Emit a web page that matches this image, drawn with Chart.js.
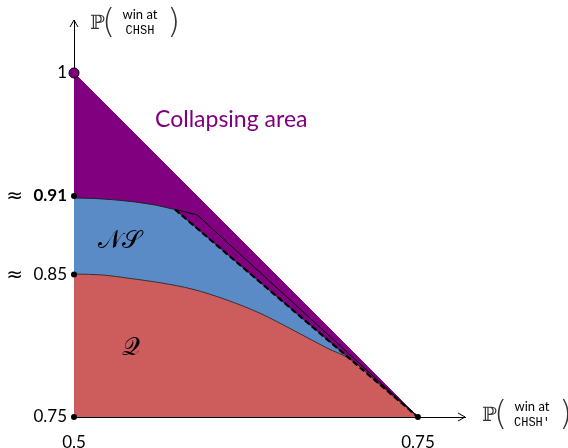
<!DOCTYPE html>
<html>
<head>
<meta charset="utf-8">
<script src="https://cdn.jsdelivr.net/npm/chart.js@4.4.0/dist/chart.umd.min.js"></script>
<style>
  body { margin: 0; background: #fff; }
  #wrap { width: 568px; height: 448px; }
</style>
</head>
<body>
<div id="wrap"><canvas id="chart" width="568" height="448"></canvas></div>
<script>
// axis ticks
var xTicks = [0.5, 0.75];
var xTickLabels = ['0.5', '0.75'];
var yTicks = [0.75, 0.8536, 0.9106, 1];
var yTickLabels = ['0.75', '0.85', '0.91', '1'];
var approxTicks = [0.8536, 0.9106]; // values shown with a "≈" in front

// outer bound (collapsing area edge)
var topX = [0.5, 0.75];
var topY = [1, 0.75];

// NS boundary: curve up to the kink, then dashed straight line
var nsX = [0.5, 0.5153, 0.5298, 0.5443, 0.5589, 0.5734, 0.75];
var nsY = [0.9092, 0.9088, 0.9078, 0.9063, 0.9041, 0.9008, 0.75];

// solid line that keeps going past the kink
var extraX = [0.5734, 0.5894, 0.75];
var extraY = [0.9008, 0.8970, 0.75];

// quantum boundary Q
var qX = [0.5, 0.5211, 0.5407, 0.5625, 0.5865, 0.6112, 0.6352, 0.6592, 0.6839, 0.7006, 0.7224, 0.75];
var qY = [0.8539, 0.8532, 0.8507, 0.8476, 0.8428, 0.8350, 0.8254, 0.8132, 0.8001, 0.7921, 0.7735, 0.75];

// marked points on the axes
var dotX = [0.5, 0.5, 0.5, 0.75];
var dotY = [0.75, 0.8536, 0.9106, 0.75];

function pts(xs, ys) {
  return xs.map(function (x, i) { return { x: x, y: ys[i] }; });
}

var purple = '#800080';
var blue = '#5b8bc7';
var red = '#cd5c5c';
var kink = 5; // index in nsX where the dashed part starts

// titles, arrows and region names
var decorations = {
  id: 'decorations',
  afterDraw: function (chart) {
    var ctx = chart.ctx;
    var xs = chart.scales.x, ys = chart.scales.y;
    var area = chart.chartArea;
    var x0 = xs.getPixelForValue(0.5);
    var y0 = ys.getPixelForValue(0.75);
    ctx.save();

    // arrow heads
    ctx.strokeStyle = '#000';
    ctx.lineWidth = 1;
    ctx.beginPath();
    ctx.moveTo(x0 - 4, area.top + 7);
    ctx.lineTo(x0, area.top);
    ctx.lineTo(x0 + 4, area.top + 7);
    ctx.moveTo(area.right - 7, y0 - 4);
    ctx.lineTo(area.right, y0);
    ctx.lineTo(area.right - 7, y0 + 4);
    ctx.stroke();

    // "≈" before the approximate ticks
    ctx.fillStyle = '#000';
    ctx.textAlign = 'right';
    ctx.textBaseline = 'middle';
    ctx.font = '20px "DejaVu Sans"';
    approxTicks.forEach(function (v) {
      ctx.fillText('≈', x0 - 51, ys.getPixelForValue(v) + 1);
    });

    // region names
    ctx.fillStyle = purple;
    ctx.font = '23px Lato';
    ctx.textAlign = 'left';
    ctx.textBaseline = 'alphabetic';
    ctx.fillText('Collapsing area', xs.getPixelForValue(0.5589), ys.getPixelForValue(0.9608));

    ctx.fillStyle = '#000';
    ctx.textAlign = 'center';
    ctx.textBaseline = 'middle';
    ctx.font = '25px "DejaVu Serif"';
    ctx.fillText('𝒩𝒮', xs.getPixelForValue(0.5334), ys.getPixelForValue(0.8772));
    ctx.fillText('𝒬', xs.getPixelForValue(0.5414), ys.getPixelForValue(0.8001));

    // axis titles
    function prob(px, py, game) {
      ctx.fillStyle = '#333';
      ctx.textAlign = 'left';
      ctx.textBaseline = 'middle';
      ctx.font = '20px "DejaVu Serif"';
      ctx.fillText('ℙ', px, py);
      ctx.font = '300 34px "DejaVu Sans"';
      ctx.fillText('(', px + 12, py);
      ctx.fillText(')', px + 77, py);
      ctx.fillStyle = '#000';
      ctx.textAlign = 'center';
      ctx.font = '13px Lato';
      ctx.fillText('win at', px + 50, py - 9);
      ctx.font = '12px "Liberation Mono"';
      ctx.fillText(game, px + 50, py + 7);
    }
    prob(x0 + 16, 24, 'CHSH');
    prob(area.right + 17, y0 - 1, 'CHSH′');
    ctx.restore();
  }
};

new Chart(document.getElementById('chart'), {
  type: 'scatter',
  data: {
    datasets: [
      {
        data: [{ x: 0.5, y: 1 }],
        pointRadius: 5,
        pointBackgroundColor: purple,
        pointBorderColor: '#000',
        pointBorderWidth: 1,
        showLine: false,
        clip: false
      },
      {
        data: pts(dotX, dotY),
        pointRadius: 3,
        pointBackgroundColor: '#000',
        pointBorderWidth: 0,
        showLine: false,
        clip: false
      },
      {
        data: pts(extraX, extraY),
        showLine: true,
        borderColor: '#000',
        borderWidth: 1,
        pointRadius: 0,
        fill: false
      },
      {
        data: pts(nsX.slice(kink), nsY.slice(kink)),
        showLine: true,
        borderColor: '#000',
        borderWidth: 2.2,
        borderDash: [6, 3],
        pointRadius: 0,
        fill: false
      },
      {
        data: pts(qX, qY),
        showLine: true,
        cubicInterpolationMode: 'monotone',
        borderColor: '#333',
        borderWidth: 1,
        backgroundColor: red,
        pointRadius: 0,
        fill: 'start'
      },
      {
        data: pts(nsX, nsY),
        showLine: true,
        borderColor: '#222',
        borderWidth: 1,
        segment: {
          borderWidth: function (c) { return c.p0DataIndex >= kink ? 0 : 1; }
        },
        backgroundColor: blue,
        pointRadius: 0,
        fill: 'start'
      },
      {
        data: pts(topX, topY),
        showLine: true,
        borderColor: purple,
        borderWidth: 1,
        backgroundColor: purple,
        pointRadius: 0,
        fill: 'start'
      }
    ]
  },
  options: {
    responsive: false,
    animation: false,
    layout: { padding: { top: 20, right: 103, left: 0, bottom: 0 } },
    plugins: { legend: { display: false }, tooltip: { enabled: false } },
    scales: {
      x: {
        type: 'linear',
        min: 0.5,
        max: 0.7842,
        grid: { display: false, drawTicks: false },
        border: { display: true, color: '#000', width: 1 },
        afterBuildTicks: function (s) { s.ticks = xTicks.map(function (v) { return { value: v }; }); },
        afterFit: function (s) { s.height = 31; },
        ticks: {
          padding: 15,
          color: '#000',
          font: { family: 'Lato', size: 17 },
          callback: function (v, i) { return xTickLabels[i]; }
        }
      },
      y: {
        type: 'linear',
        min: 0.75,
        max: 1.0385,
        grid: { display: false, drawTicks: false },
        border: { display: true, color: '#000', width: 1 },
        afterBuildTicks: function (s) { s.ticks = yTicks.map(function (v) { return { value: v }; }); },
        afterFit: function (s) { s.width = 74; },
        ticks: {
          padding: 7,
          color: '#000',
          font: function (c) {
            var bold = c.tick && c.tick.value === 0.9106;
            return { family: 'Lato', size: 17, weight: bold ? 'bold' : 'normal' };
          },
          callback: function (v, i) { return yTickLabels[i]; }
        }
      }
    }
  },
  plugins: [decorations]
});
</script>
</body>
</html>
